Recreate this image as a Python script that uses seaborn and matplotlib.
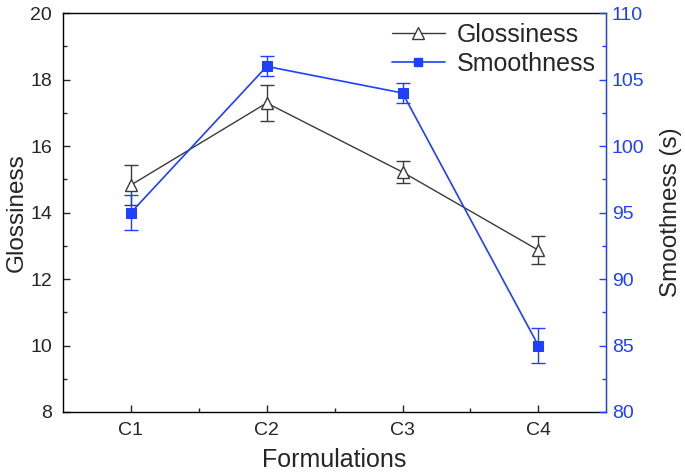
import numpy as np
import pandas as pd
import seaborn as sns
import matplotlib
matplotlib.use("Agg")
import matplotlib.pyplot as plt
from matplotlib.lines import Line2D
from matplotlib.ticker import MultipleLocator, FixedLocator

# data
formulations = ["C1", "C2", "C3", "C4"]
glossiness = [14.83, 17.3, 15.22, 12.87]
glossiness_err = [0.6, 0.55, 0.33, 0.42]
smoothness = [95.0, 106.0, 104.0, 85.0]
smoothness_err = [1.3, 0.75, 0.75, 1.3]

blue = "#1f3fff"
grey = "#3a3a3a"

sns.set_style("ticks")
plt.rcParams["font.family"] = ["Liberation Sans", "DejaVu Sans"]
plt.rcParams["xtick.direction"] = "in"
plt.rcParams["ytick.direction"] = "in"

df = pd.DataFrame({"Formulations": formulations, "Glossiness": glossiness,
                   "Smoothness": smoothness})
xpos = np.arange(len(formulations))

fig = plt.figure(figsize=(6.85, 4.73), dpi=100)
ax = fig.add_axes([0.092, 0.129, 0.793, 0.843])

sns.lineplot(data=df, x="Formulations", y="Glossiness", ax=ax, color=grey,
             lw=1, marker="^", markersize=9, markerfacecolor="white",
             markeredgecolor=grey, markeredgewidth=1, sort=False, zorder=3)
ax.errorbar(xpos, glossiness, yerr=glossiness_err, fmt="none", ecolor=grey,
            elinewidth=1, capsize=5, capthick=1, zorder=2)

ax2 = ax.twinx()
sns.lineplot(data=df, x="Formulations", y="Smoothness", ax=ax2, color=blue,
             lw=1.2, marker="s", markersize=7, markeredgecolor=blue,
             sort=False, zorder=3)
ax2.errorbar(xpos, smoothness, yerr=smoothness_err, fmt="none", ecolor=blue,
             elinewidth=1, capsize=5, capthick=1, zorder=2)

ax.set_xlim(-0.5, 3.5)
ax.set_ylim(8, 20)
ax2.set_ylim(80, 110)
ax.yaxis.set_major_locator(MultipleLocator(2))
ax.yaxis.set_minor_locator(MultipleLocator(1))
ax.xaxis.set_minor_locator(FixedLocator([0.5, 1.5, 2.5]))
ax2.yaxis.set_major_locator(MultipleLocator(5))
ax2.yaxis.set_minor_locator(MultipleLocator(2.5))

ax.set_xlabel("Formulations", fontsize=18, labelpad=7)
ax.set_ylabel("Glossiness", fontsize=17.5, labelpad=2)
ax2.set_ylabel("Smoothness (s)", fontsize=17.5, labelpad=11)

ax.tick_params(axis="both", which="major", labelsize=14, length=5,
               width=1, top=False, right=False)
ax.tick_params(axis="both", which="minor", length=3, width=1)
ax.tick_params(axis="x", which="major", pad=7)
ax.tick_params(axis="y", which="major", pad=8)
ax2.tick_params(axis="y", which="major", labelsize=14, length=5, width=1,
                colors=blue, pad=4)
ax2.tick_params(axis="y", which="minor", length=3, width=1, colors=blue)

for s in ["left", "bottom", "top"]:
    ax.spines[s].set_color("black")
    ax.spines[s].set_linewidth(1)
ax2.spines["right"].set_color(blue)
ax2.spines["right"].set_linewidth(1)
ax2.spines["left"].set_visible(False)
ax2.spines["top"].set_visible(False)
ax2.spines["bottom"].set_visible(False)

handles = [
    Line2D([], [], color=grey, lw=1, marker="^", markersize=8,
           markerfacecolor="white", markeredgecolor=grey),
    Line2D([], [], color=blue, lw=1.2, marker="s", markersize=6,
           markeredgecolor=blue),
]
ax2.legend(handles, ["Glossiness", "Smoothness"], loc="upper right",
           frameon=False, fontsize=18, handlelength=2.1, numpoints=1,
           borderaxespad=0.1, borderpad=0.3, labelspacing=0.2,
           handletextpad=0.5)

fig.savefig("out.png", dpi=100)
